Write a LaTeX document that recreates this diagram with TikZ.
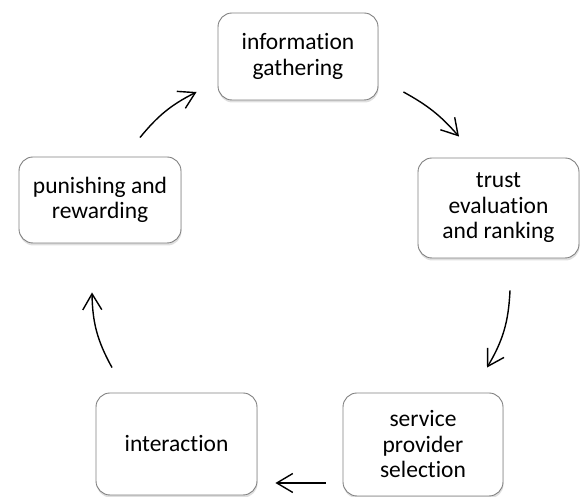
\documentclass[tikz,border=0pt]{standalone}
\usepackage{fontspec}
\setmainfont{Carlito}[Ligatures=NoCommon]
\usepackage{tikz}
\usetikzlibrary{arrows.meta,shadows}

\begin{document}
\begin{tikzpicture}[x=1pt, y=1pt]
                \tikzstyle{stage} = [draw=black!50, line width=0.9pt, rounded corners=14pt, fill=white, align=center, inner sep=0pt, font=\fontsize{23.5}{25.5}\selectfont, drop shadow={opacity=0.25, shadow xshift=0.5pt, shadow yshift=-2.5pt}]
                \tikzstyle{cyc} = [line width=1.4pt, -{Straight Barb[length=16pt, width=19pt, line width=1.4pt]}]
                \useasboundingbox (0,0) rectangle (582,497);
                \node[stage, minimum width=160pt, minimum height=87pt] (ig) at (298, 440.5) {information\\gathering};
                \node[stage, minimum width=161pt, minimum height=100pt] (tr) at (498.5, 289) {trust\\evaluation\\and ranking};
                \node[stage, minimum width=160pt, minimum height=103pt] (sp) at (423, 52.5) {service\\provider\\selection};
                \node[stage, minimum width=161pt, minimum height=102pt] (in) at (176.5, 53) {interaction};
                \node[stage, minimum width=162pt, minimum height=86pt] (pr) at (100, 297) {punishing and\\rewarding};
                \draw[cyc] ([shift={(40,19)}]pr.north) to[bend left=12] ([shift={(-21,-35.5)}]ig.west);
                \draw[cyc] ([shift={(25,-35.5)}]ig.east) to[bend left=10] ([shift={(-39.5,21)}]tr.north);
                \draw[cyc] ([shift={(11.5,-32)}]tr.south) to[bend left=14] ([shift={(64,25)}]sp.north);
                \draw[cyc] ([shift={(-17,-38.5)}]sp.west) -- ([shift={(18,-39)}]in.east);
                \draw[cyc] ([shift={(-64.5,25)}]in.north) to[bend left=14] ([shift={(-8,-49)}]pr.south);
            \end{tikzpicture}
\end{document}
